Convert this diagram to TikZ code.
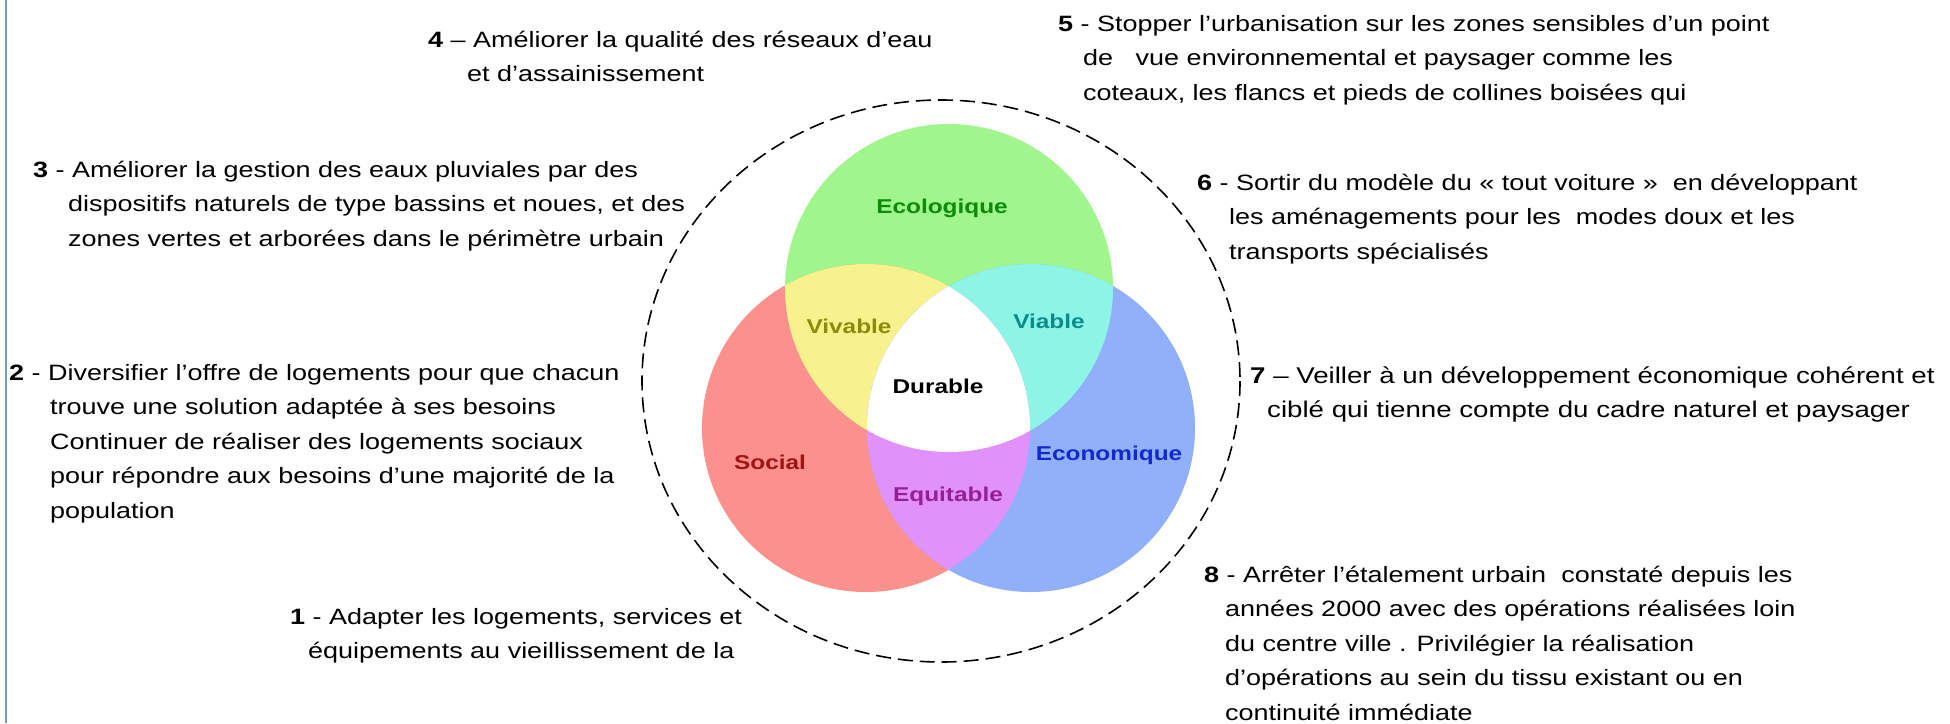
\documentclass[tikz,border=0pt]{standalone}
\usepackage{fontspec}
\setmainfont{Liberation Sans}[FakeStretch=1.216]
\newfontfamily\lblfont{Liberation Sans}[FakeStretch=1.22]
\usetikzlibrary{calc}

% fills of the three circles and of their overlaps
\definecolor{ecofill}{RGB}{160,245,140}
\definecolor{socfill}{RGB}{250,145,140}
\definecolor{ecnfill}{RGB}{145,175,250}
\definecolor{vivfill}{RGB}{248,242,142}
\definecolor{viafill}{RGB}{142,245,230}
\definecolor{equfill}{RGB}{225,145,250}
% label colours
\definecolor{ecotxt}{RGB}{10,140,10}
\definecolor{soctxt}{RGB}{160,20,20}
\definecolor{ecntxt}{RGB}{20,40,210}
\definecolor{vivtxt}{RGB}{140,140,10}
\definecolor{viatxt}{RGB}{10,140,140}
\definecolor{equtxt}{RGB}{150,30,150}
\definecolor{edge}{RGB}{120,150,200}

\begin{document}
\begin{tikzpicture}[x=1pt,y=-1pt,
  txt/.style={anchor=base west, inner sep=0pt, font=\fontsize{22.2}{34.5}\selectfont},
  txtwide/.style={txt, font=\fontsize{22.75}{34.5}\selectfont},
  lbl/.style={inner sep=0pt, font=\lblfont\bfseries\fontsize{20}{24}\selectfont}]
\useasboundingbox (0,0) rectangle (1950,723);
\fill[white] (0,0) rectangle (1950,723);
\draw[edge, line width=2pt] (6,0) -- (6,723);

% circle centres
\coordinate (G) at (949,288);
\coordinate (R) at (866,428);
\coordinate (B) at (1031,428);
\def\rad{164}

% base discs
\fill[ecofill] (G) circle (\rad);
\fill[socfill] (R) circle (\rad);
\fill[ecnfill] (B) circle (\rad);
% pairwise overlaps
\begin{scope}\clip (G) circle (\rad); \fill[vivfill] (R) circle (\rad);\end{scope}
\begin{scope}\clip (G) circle (\rad); \fill[viafill] (B) circle (\rad);\end{scope}
\begin{scope}\clip (R) circle (\rad); \fill[equfill] (B) circle (\rad);\end{scope}
% common core
\begin{scope}\clip (G) circle (\rad); \clip (R) circle (\rad); \fill[white] (B) circle (\rad);\end{scope}

% enclosing dashed outline
\coordinate (O) at (941,381);
\draw[line width=1.6pt, dash pattern=on 15pt off 7pt] (O) ellipse [x radius=299, y radius=281];

% labels
\node[lbl, text=ecotxt] (eco) at (942,208) {Ecologique};
\node[lbl, text=vivtxt] (viv) at (849,326) {Vivable};
\node[lbl, text=viatxt] (via) at (1049,321) {Viable};
\node[lbl, text=black] (dur) at (938,386) {Durable};
\node[lbl, text=soctxt] (soc) at (770,462) {Social};
\node[lbl, text=ecntxt] (ecn) at (1109,455) {Economique};
\node[lbl, text=equtxt] (equ) at (948,496) {Equitable};

% proposals
\node[txt] (p4a) at (428,47) {\textbf{4} – Améliorer la qualité des réseaux d’eau};
\node[txt] (p4b) at (467,81.5) {et d’assainissement};

\node[txt] (p5a) at (1058,31) {\textbf{5} - Stopper l’urbanisation sur les zones sensibles d’un point};
\node[txt] (p5b) at (1083,65.5) {de\ \ \ vue environnemental et paysager comme les};
\node[txt] (p5c) at (1083,100) {coteaux, les flancs et pieds de collines boisées qui};

\node[txt] (p3a) at (33,177) {\textbf{3} - Améliorer la gestion des eaux pluviales par des};
\node[txt] (p3b) at (68,211.5) {dispositifs naturels de type bassins et noues, et des};
\node[txt] (p3c) at (68,246) {zones vertes et arborées dans le périmètre urbain};

\node[txt] (p6a) at (1197,190) {\textbf{6} - Sortir du modèle du « tout voiture »\ \ en développant};
\node[txt] (p6b) at (1229,224.5) {les aménagements pour les\ \ modes doux et les};
\node[txt] (p6c) at (1229,259) {transports spécialisés};

\node[txt] (p2a) at (9,380) {\textbf{2} - Diversifier l’offre de logements pour que chacun};
\node[txt] (p2b) at (50,414.5) {trouve une solution adaptée à ses besoins};
\node[txt] (p2c) at (50,449) {Continuer de réaliser des logements sociaux};
\node[txt] (p2d) at (50,483.5) {pour répondre aux besoins d’une majorité de la};
\node[txt] (p2e) at (50,518) {population};

\node[txtwide] (p7a) at (1250,383) {\textbf{7} – Veiller à un développement économique cohérent et};
\node[txtwide] (p7b) at (1267,417.5) {ciblé qui tienne compte du cadre naturel et paysager};

\node[txt] (p1a) at (290,624) {\textbf{1} - Adapter les logements, services et};
\node[txt] (p1b) at (308,658.5) {équipements au vieillissement de la};

\node[txt] (p8a) at (1204,582) {\textbf{8} - Arrêter l’étalement urbain\ \ constaté depuis les};
\node[txt] (p8b) at (1225,616.5) {années 2000 avec des opérations réalisées loin};
\node[txt] (p8c) at (1225,651) {du centre ville . Privilégier la réalisation};
\node[txt] (p8d) at (1225,685.5) {d’opérations au sein du tissu existant ou en};
\node[txt] (p8e) at (1225,720) {continuité immédiate};
\end{tikzpicture}
\end{document}
